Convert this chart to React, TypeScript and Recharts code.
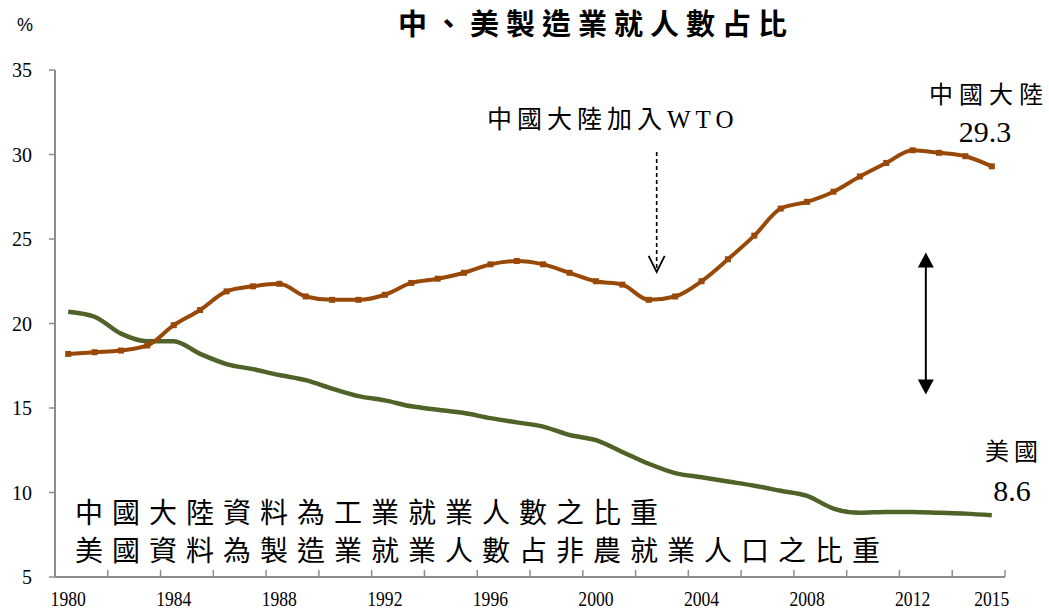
import React from 'react';
import { LineChart, Line, XAxis, YAxis, ReferenceLine, Customized } from 'recharts';

const years = [1980, 1981, 1982, 1983, 1984, 1985, 1986, 1987, 1988, 1989, 1990, 1991, 1992, 1993, 1994, 1995, 1996, 1997, 1998, 1999, 2000, 2001, 2002, 2003, 2004, 2005, 2006, 2007, 2008, 2009, 2010, 2011, 2012, 2013, 2014, 2015];
const chinaShare = [18.2, 18.3, 18.4, 18.7, 19.9, 20.8, 21.9, 22.2, 22.35, 21.6, 21.4, 21.4, 21.7, 22.4, 22.65, 23.0, 23.5, 23.7, 23.5, 23.0, 22.5, 22.3, 21.4, 21.6, 22.5, 23.8, 25.2, 26.8, 27.2, 27.8, 28.7, 29.5, 30.25, 30.1, 29.9, 29.3];
const usShare = [20.7, 20.4, 19.4, 18.95, 18.95, 18.2, 17.6, 17.3, 16.95, 16.65, 16.15, 15.7, 15.45, 15.1, 14.9, 14.7, 14.4, 14.15, 13.9, 13.4, 13.1, 12.4, 11.7, 11.15, 10.9, 10.65, 10.4, 10.1, 9.8, 9.05, 8.8, 8.85, 8.85, 8.8, 8.75, 8.65];
const xTickLabels = [1980, 1984, 1988, 1992, 1996, 2000, 2004, 2008, 2012, 2015];
const xMinorTicks = [1979.5, 1981.5, 1983.5, 1985.5, 1987.5, 1989.5, 1991.5, 1993.5, 1995.5, 1997.5, 1999.5, 2001.5, 2003.5, 2005.5, 2007.5, 2009.5, 2011.5, 2013.5, 2015.5];
const yTicks = [5, 10, 15, 20, 25, 30, 35];

const wtoArrow = [{ x: 2002.3, y: 30.15 }, { x: 2002.3, y: 23.05 }];
const gapArrow = [{ x: 2012.5, y: 24.2 }, { x: 2012.5, y: 15.8 }];

const data = years.map((y, i) => ({ year: y, china: chinaShare[i], us: usShare[i] }));

const ORANGE = '#984807';
const GREEN = '#4F6228';
const AXIS = '#8C8C8C';
const SERIF = '"Liberation Serif", "Noto Sans CJK TC", serif';
const CJK = '"Noto Sans CJK TC", "Liberation Serif", serif';

const DashedArrow = (p: any) => {
  const { x1, y1, x2, y2 } = p;
  return (
    <g>
      <line x1={x1} y1={y1} x2={x2} y2={y2} stroke="#000" strokeWidth={1.6} strokeDasharray="4 3" />
      <polyline points={`${x2 - 8},${y2 - 16} ${x2},${y2} ${x2 + 8},${y2 - 16}`} fill="none" stroke="#000" strokeWidth={1.8} />
    </g>
  );
};

const DoubleArrow = (p: any) => {
  const { x1, y1, x2, y2 } = p;
  const top = Math.min(y1, y2);
  const bot = Math.max(y1, y2);
  return (
    <g>
      <line x1={x1} y1={top + 10} x2={x2} y2={bot - 10} stroke="#000" strokeWidth={2} />
      <polygon points={`${x1},${top} ${x1 - 8},${top + 15} ${x1 + 8},${top + 15}`} fill="#000" />
      <polygon points={`${x2},${bot} ${x2 - 8},${bot - 15} ${x2 + 8},${bot - 15}`} fill="#000" />
    </g>
  );
};

const SquareDot = (p: any) => {
  const { cx, cy, index } = p;
  if (cx == null || cy == null) return <g key={`d${index}`} />;
  return <rect key={`d${index}`} x={cx - 3} y={cy - 3} width={6} height={6} fill={ORANGE} />;
};

const XTick = (p: any) => {
  const { x, y, payload } = p;
  return (
    <text transform={`translate(${x},${y}) scale(0.84,1)`} textAnchor="middle" dy="0.71em" fontSize={21} fontFamily={SERIF} fill="#000">
      {payload.value}
    </text>
  );
};

const TextLayer = () => (
  <g>
    <text x={25} y={25} textAnchor="middle" dominantBaseline="central" fontSize={18} fontFamily='"Liberation Sans", Arial, sans-serif' fill="#000">%</text>
    <text x={596} y={22} textAnchor="middle" dominantBaseline="central" fontSize={29} fontWeight={700} letterSpacing={7} fontFamily={CJK} fill="#000">中、美製造業就人數占比</text>
    <text x={487} y={119} dominantBaseline="central" fontSize={25} letterSpacing={5} fontFamily={SERIF} fill="#000">中國大陸加入WTO</text>
    <text x={989} y={92} textAnchor="middle" dominantBaseline="central" fontSize={24} letterSpacing={6} fontFamily={CJK} fill="#000">中國大陸</text>
    <text x={985} y={131} textAnchor="middle" dominantBaseline="central" fontSize={30} fontFamily={SERIF} fill="#000">29.3</text>
    <text x={1014} y={449} textAnchor="middle" dominantBaseline="central" fontSize={24} letterSpacing={5} fontFamily={CJK} fill="#000">美國</text>
    <text x={1012} y={490} textAnchor="middle" dominantBaseline="central" fontSize={30} fontFamily={SERIF} fill="#000">8.6</text>
    <text x={75} y={511} dominantBaseline="central" fontSize={28} letterSpacing={9} fontFamily={CJK} fill="#000">中國大陸資料為工業就業人數之比重</text>
    <text x={75} y={549} dominantBaseline="central" fontSize={28} letterSpacing={9} fontFamily={CJK} fill="#000">美國資料為製造業就業人數占非農就業人口之比重</text>
  </g>
);

export default function App() {
  return (
    <div style={{ position: 'absolute', left: 0, top: 0, width: 1049, height: 610, background: '#fff' }}>
      <LineChart width={1049} height={610} data={data} margin={{ top: 70, right: 44, bottom: 3, left: 10 }}>
        <XAxis
          dataKey="year"
          type="number"
          domain={[1979.5, 2015.5]}
          ticks={xTickLabels}
          interval={0}
          allowDataOverflow
          tickLine={false}
          tickSize={8}
          tickMargin={6}
          height={30}
          axisLine={{ stroke: AXIS, strokeWidth: 2 }}
          tick={XTick}
        />
        <XAxis
          xAxisId="minor"
          dataKey="year"
          type="number"
          domain={[1979.5, 2015.5]}
          ticks={xMinorTicks}
          interval={0}
          allowDataOverflow
          mirror
          axisLine={false}
          tickSize={7}
          tickLine={{ stroke: AXIS, strokeWidth: 1.5 }}
          tick={() => <g />}
        />
        <YAxis
          type="number"
          domain={[5, 35]}
          ticks={yTicks}
          interval={0}
          width={45}
          tickSize={6}
          tickMargin={17}
          axisLine={{ stroke: AXIS, strokeWidth: 2 }}
          tickLine={{ stroke: AXIS, strokeWidth: 1.5 }}
          tick={{ fontSize: 20, fontFamily: SERIF, fill: '#000' }}
        />
        <Line type="monotone" dataKey="us" stroke={GREEN} strokeWidth={4.5} dot={false} activeDot={false} isAnimationActive={false} />
        <Line type="monotone" dataKey="china" stroke={ORANGE} strokeWidth={4} dot={SquareDot} activeDot={false} isAnimationActive={false} />
        <ReferenceLine segment={wtoArrow} shape={DashedArrow} ifOverflow="visible" />
        <ReferenceLine segment={gapArrow} shape={DoubleArrow} ifOverflow="visible" />
        <Customized component={TextLayer} />
      </LineChart>
    </div>
  );
}
